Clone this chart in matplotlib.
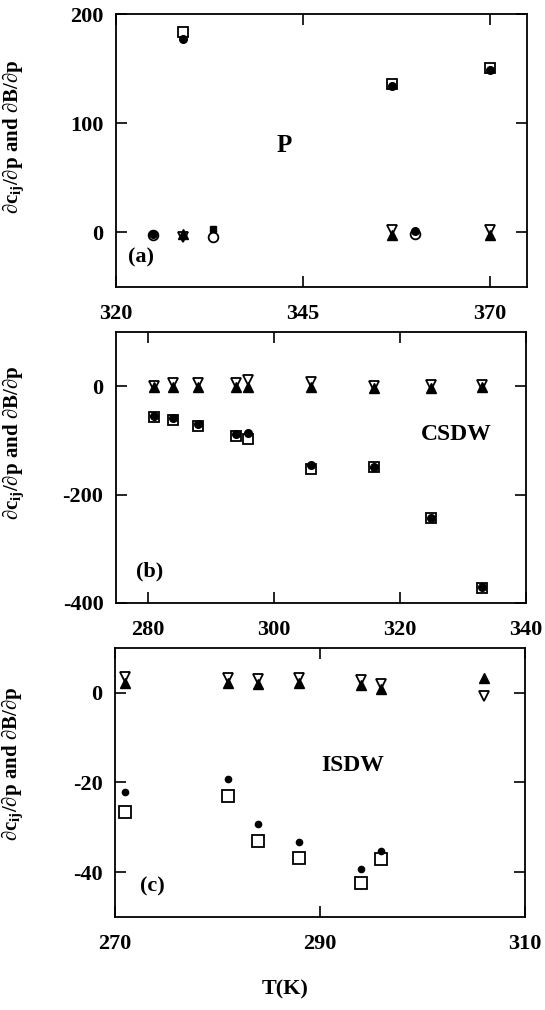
import numpy as np
from matplotlib import pyplot as plt

plt.rcParams['font.family'] = ['Liberation Serif', 'DejaVu Serif']
plt.rcParams['font.weight'] = 'bold'
plt.rcParams['axes.unicode_minus'] = False
plt.rcParams['mathtext.fontset'] = 'custom'
plt.rcParams['mathtext.rm'] = 'Liberation Serif:bold'
plt.rcParams['mathtext.it'] = 'Liberation Serif:bold'
plt.rcParams['mathtext.bf'] = 'Liberation Serif:bold'

# ---- panel (a): P phase
a_T_sq = [329, 357, 370]
a_sq = [184, 136, 151]
a_T_ci = [325, 329, 357, 360, 370]
a_ci = [-1, 177, 134, 1, 149]
a_T_oc = [325, 333, 360]
a_oc = [-2, -4, -1]
a_T_fs = [333]
a_fs = [3]
a_T_tri = [329, 357, 370]
a_dn = [-4, 2, 2]
a_up = [-1, -2, -2]

# ---- panel (b): CSDW
b_T = [281, 284, 288, 294, 296, 306, 316, 325, 333]
b_sq = [-57, -62, -73, -92, -97, -153, -150, -243, -372]
b_ci = [-55, -58, -70, -88, -86, -145, -150, -243, -370]
b_dn = [0, 6, 5, 5, 11, 7, 1, 3, 3]
b_up = [-2, -2, -2, -2, -1, -1, -3, -3, -2]

# ---- panel (c): ISDW
c_T = [271, 281, 284, 288, 294, 296]
c_sq = [-26.5, -23.0, -33.0, -36.8, -42.5, -37.0]
c_ci = [-22.2, -19.2, -29.3, -33.3, -39.3, -35.3]
c_T_tri = [271, 281, 284, 288, 294, 296, 306]
c_dn = [3.6, 3.3, 3.1, 3.3, 2.8, 1.9, -0.8]
c_up = [2.3, 2.1, 1.9, 2.1, 1.7, 0.8, 3.2]

ylab = r'∂c$_{ij}$/∂p and ∂B/∂p'

fig = plt.figure(figsize=(5.45, 10.1), dpi=100)
axa = fig.add_axes([0.2128, 0.7158, 0.754, 0.2703])
axb = fig.add_axes([0.2128, 0.4030, 0.752, 0.2683])
axc = fig.add_axes([0.2110, 0.0921, 0.752, 0.2663])

def tri(ax, T, dn, up):
    ax.plot(T, dn, 'v', mfc='white', mec='black', mew=1.3, ms=7, zorder=3)
    ax.plot(T, up, '^', color='black', ms=6.5, zorder=4)

def sqci(ax, Ts, sq, Tc, ci, ms_sq=7.5, ms_ci=4.5):
    ax.plot(Ts, sq, 's', mfc='white', mec='black', mew=1.3, ms=ms_sq, zorder=3)
    ax.plot(Tc, ci, 'o', color='black', ms=ms_ci, zorder=4)

# (a)
sqci(axa, a_T_sq, a_sq, a_T_ci, a_ci, ms_ci=5.5)
axa.plot(a_T_oc, a_oc, 'o', mfc='white', mec='black', mew=1.3, ms=7, zorder=2)
axa.plot(a_T_fs, a_fs, 's', color='black', ms=5, zorder=1)
tri(axa, a_T_tri, a_dn, a_up)
axa.set_xlim(320, 375)
axa.set_ylim(-50, 200)
axa.set_xticks([320, 345, 370])
axa.set_yticks([0, 100, 200])
axa.text(0.41, 0.52, 'P', transform=axa.transAxes, fontsize=18, fontweight='bold', ha='center', va='center')
axa.text(0.03, 0.11, '(a)', transform=axa.transAxes, fontsize=16, fontweight='bold', ha='left', va='center')

# (b)
sqci(axb, b_T, b_sq, b_T, b_ci, ms_ci=5.5)
tri(axb, b_T, b_dn, b_up)
axb.set_xlim(275, 340)
axb.set_ylim(-400, 100)
axb.set_xticks([280, 300, 320, 340])
axb.set_yticks([-400, -200, 0])
axb.text(0.83, 0.62, 'CSDW', transform=axb.transAxes, fontsize=17, fontweight='bold', ha='center', va='center')
axb.text(0.05, 0.115, '(b)', transform=axb.transAxes, fontsize=16, fontweight='bold', ha='left', va='center')

# (c)
sqci(axc, c_T, c_sq, c_T, c_ci, ms_sq=8, ms_ci=4.5)
tri(axc, c_T_tri, c_dn, c_up)
axc.set_xlim(270, 310)
axc.set_ylim(-50, 10)
axc.set_xticks([270, 290, 310])
axc.set_yticks([-40, -20, 0])
axc.text(0.58, 0.565, 'ISDW', transform=axc.transAxes, fontsize=17, fontweight='bold', ha='center', va='center')
axc.text(0.06, 0.115, '(c)', transform=axc.transAxes, fontsize=16, fontweight='bold', ha='left', va='center')

for ax, ly in [(axa, 0.55), (axb, 0.59), (axc, 0.57)]:
    ax.tick_params(direction='in', top=True, right=True, length=8, width=1.2, labelsize=16)
    ax.tick_params(axis='x', pad=12)
    ax.tick_params(axis='y', pad=9)
    for s in ax.spines.values():
        s.set_linewidth(1.3)
    for lab in ax.get_xticklabels() + ax.get_yticklabels():
        lab.set_fontweight('bold')
    ax.set_ylabel(ylab, fontsize=15, fontweight='bold')
    ax.yaxis.set_label_coords(-0.22, ly)

fig.text(0.523, 0.02, 'T(K)', fontsize=16, fontweight='bold', ha='center', va='center')

plt.savefig('out.png', dpi=100)
